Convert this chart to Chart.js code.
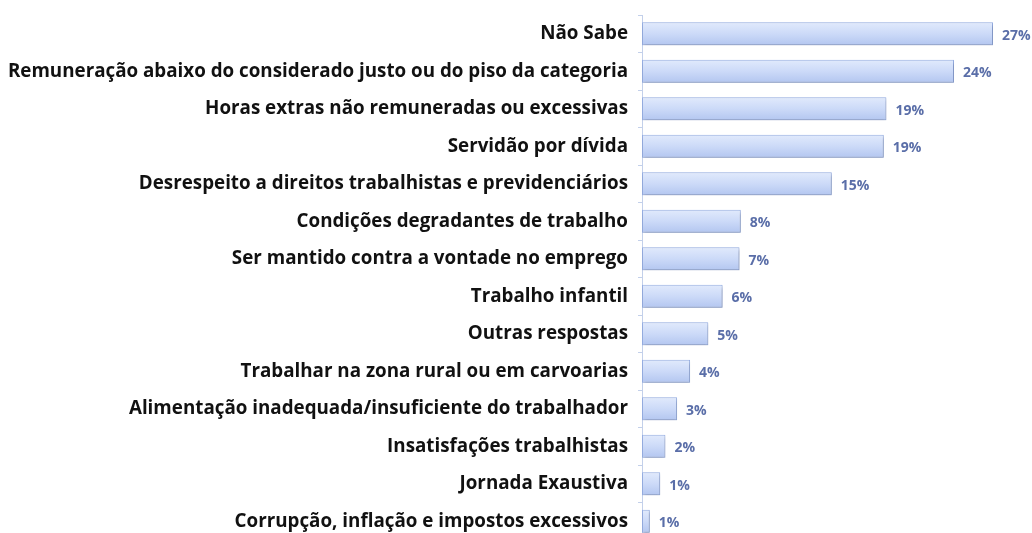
<!DOCTYPE html>
<html>
<head>
<meta charset="utf-8">
<script src="https://cdn.jsdelivr.net/npm/chart.js@4/dist/chart.umd.min.js"></script>
<style>
  html, body { margin: 0; padding: 0; background: #fff; overflow: hidden; }
  canvas { display: block; }
</style>
</head>
<body>
<canvas id="chart" width="1032" height="541"></canvas>
<script>
var categories = [
  'Não Sabe',
  'Remuneração abaixo do considerado justo ou do piso da categoria',
  'Horas extras não remuneradas ou excessivas',
  'Servidão por dívida',
  'Desrespeito a direitos trabalhistas e previdenciários',
  'Condições degradantes de trabalho',
  'Ser mantido contra a vontade no emprego',
  'Trabalho infantil',
  'Outras respostas',
  'Trabalhar na zona rural ou em carvoarias',
  'Alimentação inadequada/insuficiente do trabalhador',
  'Insatisfações trabalhistas',
  'Jornada Exaustiva',
  'Corrupção, inflação e impostos excessivos'
]
// bar lengths (percent)
var values = [27.0, 24.0, 18.8, 18.6, 14.6, 7.6, 7.5, 6.2, 5.1, 3.7, 2.7, 1.8, 1.4, 0.6]
// printed labels
var valueLabels = ['27%', '24%', '19%', '19%', '15%', '8%', '7%', '6%', '5%', '4%', '3%', '2%', '1%', '1%']

var barThick = 23

function barGradient (context) {
  var chart = context.chart
  var y = chart.scales.y
  if (!y || !chart.chartArea) return '#cddaf7'
  var yc = y.getPixelForValue(context.dataIndex)
  var g = chart.ctx.createLinearGradient(0, yc - barThick / 2, 0, yc + barThick / 2)
  g.addColorStop(0, '#e1eafc')
  g.addColorStop(0.5, '#ccdaf8')
  g.addColorStop(1, '#b3c6f0')
  return g
}

var barDecor = {
  id: 'barDecor',
  beforeDatasetsDraw: function (chart) {
    var ctx = chart.ctx
    ctx.save()
    ctx.shadowColor = 'rgba(70, 80, 110, 0.4)'
    ctx.shadowOffsetX = 1
    ctx.shadowOffsetY = 2
    ctx.shadowBlur = 3
  },
  afterDatasetsDraw: function (chart) {
    var ctx = chart.ctx
    ctx.restore()
    var meta = chart.getDatasetMeta(0)
    ctx.save()
    ctx.font = 'bold 14px "Open Sans"'
    ctx.fillStyle = '#5a6ea8'
    ctx.textAlign = 'left'
    ctx.textBaseline = 'middle'
    meta.data.forEach(function (bar, i) {
      ctx.fillText(valueLabels[i], bar.x + 9, bar.y + 2)
    })
    ctx.restore()
  }
}

new Chart(document.getElementById('chart'), {
  type: 'bar',
  data: {
    labels: categories,
    datasets: [
      {
        data: values,
        backgroundColor: barGradient,
        borderColor: '#96aee2',
        borderWidth: 1,
        borderSkipped: false,
        categoryPercentage: 1,
        barPercentage: barThick / 37.5
      }
    ]
  },
  options: {
    indexAxis: 'y',
    responsive: false,
    animation: false,
    devicePixelRatio: 1,
    layout: { padding: { top: 15, bottom: 1, left: 0, right: 0 } },
    plugins: {
      legend: { display: false },
      tooltip: { enabled: false }
    },
    scales: {
      x: {
        display: false,
        min: 0,
        max: 30
      },
      y: {
        afterFit: function (scale) {
          scale.width = 642
          scale.paddingTop = 0
          scale.paddingBottom = 0
        },
        border: { display: true, color: '#c3d0ea', width: 1 },
        grid: {
          drawOnChartArea: false,
          drawTicks: true,
          tickLength: 4,
          color: '#c3d0ea'
        },
        ticks: {
          padding: 10,
          color: '#111111',
          font: { family: 'Open Sans', size: 18.8, weight: 'bold' }
        }
      }
    }
  },
  plugins: [barDecor]
})
</script>
</body>
</html>
